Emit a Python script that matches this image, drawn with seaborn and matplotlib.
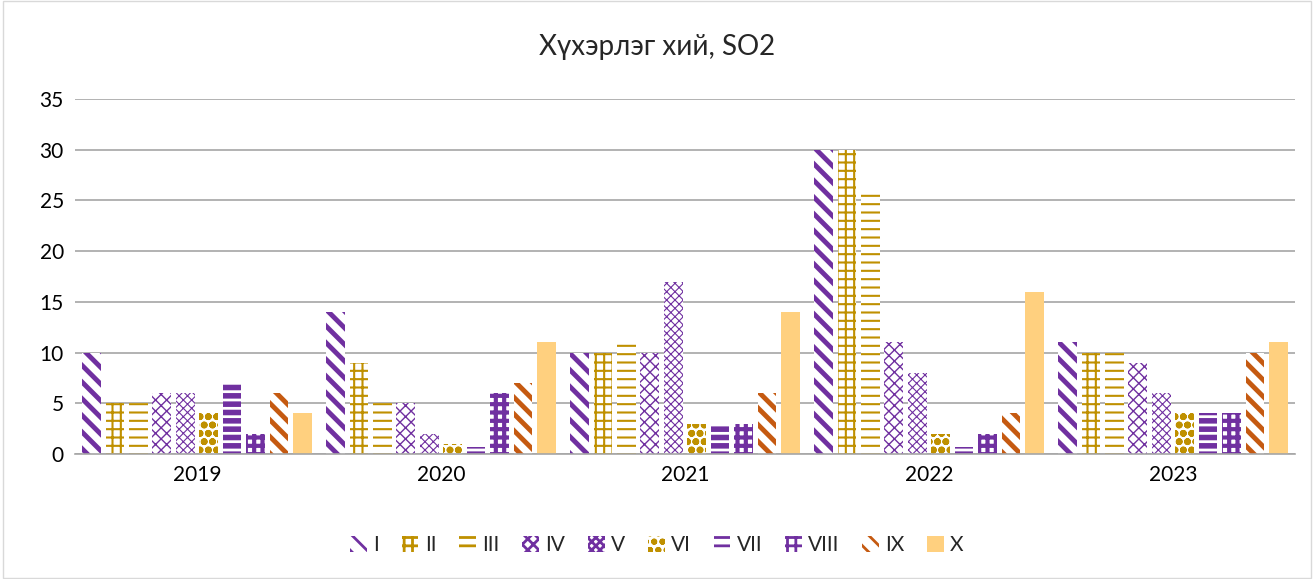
import numpy as np
import pandas as pd
import matplotlib
matplotlib.use("Agg")
import matplotlib.pyplot as plt
import matplotlib.patches as mpatches
import seaborn as sns

# data
years = ['2019', '2020', '2021', '2022', '2023']
series = ['I', 'II', 'III', 'IV', 'V', 'VI', 'VII', 'VIII', 'IX', 'X']
s_I = [10, 14, 10, 30, 11]
s_II = [5, 9, 10, 30, 10]
s_III = [5, 5, 10.8, 26, 10]
s_IV = [6, 5, 10, 11, 9]
s_V = [6, 2, 17, 8, 6]
s_VI = [4, 1, 3, 2, 4]
s_VII = [7, 0.7, 3, 0.7, 4]
s_VIII = [2, 6, 3, 2, 4]
s_IX = [6, 7, 6, 4, 10]
s_X = [4, 11, 14, 16, 11]
values = [s_I, s_II, s_III, s_IV, s_V, s_VI, s_VII, s_VIII, s_IX, s_X]

df = pd.DataFrame({
    'year': np.repeat([years], len(series), axis=0).ravel(),
    'series': np.repeat(series, len(years)),
    'value': np.concatenate(values),
})

purple = '#7030A0'
gold = '#BF9000'
orange = '#C55A11'
light = '#FFD07F'
colors = [purple, gold, gold, purple, purple, gold, purple, purple, orange, light]
hatches = ['\\\\', '++', '--', 'xxx', 'xxxx', 'oo', '--', '++', '\\\\', None]
hlw = [3.5, 1.5, 1.5, 1.0, 0.8, 2.5, 4.0, 3.0, 3.5, 1]

sns.set_style('white')
plt.rcParams['font.family'] = ['Lato', 'DejaVu Sans']
plt.rcParams['hatch.linewidth'] = 2.0

fig = plt.figure(figsize=(13.14, 5.79), dpi=100)
ax = fig.add_axes([0.057, 0.216, 0.9285, 0.613])

sns.barplot(data=df, x='year', y='value', hue='series', order=years,
            hue_order=series, palette=colors, width=0.96, gap=0.2,
            legend=False, ax=ax)

for i, cont in enumerate(ax.containers):
    for bar in cont.patches:
        if hatches[i] is None:
            bar.set_facecolor(colors[i])
            bar.set_linewidth(0)
        else:
            bar.set_facecolor('white')
            bar.set_edgecolor(colors[i])
            bar.set_hatch(hatches[i])
            bar.set_linewidth(0)
            if hasattr(bar, 'set_hatch_linewidth'):
                bar.set_hatch_linewidth(hlw[i])

ax.set_ylim(0, 35)
ax.set_yticks(range(0, 36, 5))
ax.set_xlim(-0.5, 4.5)
ax.grid(axis='y', color='#A6A6A6', linewidth=1.2)
ax.set_axisbelow(True)
for side in ['top', 'right', 'left']:
    ax.spines[side].set_visible(False)
ax.spines['bottom'].set_color('#A6A6A6')
ax.spines['bottom'].set_linewidth(1.2)
ax.tick_params(axis='both', length=0, labelsize=15, colors='#000000', pad=8)
ax.set_xlabel('')
ax.set_ylabel('')

fig.text(0.5, 0.918, 'Хүхэрлэг хий, SO2', ha='center', va='center', fontsize=20)

handles = []
for i in range(len(series)):
    if hatches[i] is None:
        p = mpatches.Patch(facecolor=colors[i], linewidth=0)
    else:
        p = mpatches.Patch(facecolor='white', edgecolor=colors[i],
                           hatch=hatches[i], linewidth=0)
        if hasattr(p, 'set_hatch_linewidth'):
            p.set_hatch_linewidth(hlw[i])
    handles.append(p)
fig.legend(handles, series, loc='center', bbox_to_anchor=(0.5, 0.058),
           ncol=10, frameon=False, fontsize=15, handlelength=0.8,
           handleheight=0.8, handletextpad=0.3, columnspacing=1.1)

fig.patches.append(mpatches.Rectangle((0.002, 0.002), 0.996, 0.996,
                                      transform=fig.transFigure,
                                      fill=False, edgecolor='#D9D9D9',
                                      linewidth=1))

fig.savefig('out.png', dpi=100)
